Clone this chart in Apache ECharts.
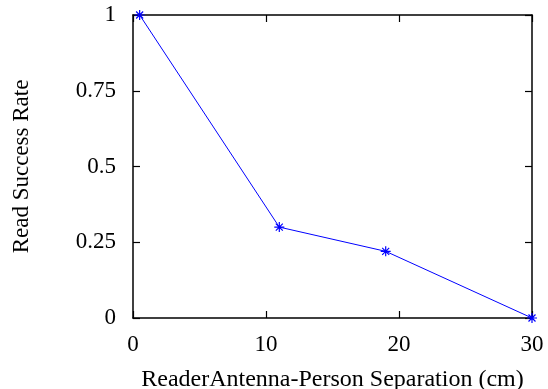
<!DOCTYPE html>
<html><head><meta charset="utf-8">
<script src="https://cdn.jsdelivr.net/npm/echarts@6/dist/echarts.min.js"></script>
<style>html,body{margin:0;padding:0;background:#fff}#c{width:548px;height:389px}</style>
</head><body><div id="c"></div>
<script>
const separation = [0.5, 11, 19, 30];
const successRate = [1, 0.30, 0.22, 0];
const xTicks = [0, 10, 20, 30];
const yTicks = [0, 0.25, 0.5, 0.75, 1];

const font = 'Liberation Serif';
const chart = echarts.init(document.getElementById('c'));
const axisLine = {show: true, onZero: false, lineStyle: {color: '#000', width: 1.5}};
const tick = {show: true, inside: true, length: 7, lineStyle: {color: '#000', width: 1.2}};
chart.setOption({
  animation: false,
  grid: {left: 133, top: 15, right: 16, bottom: 71, containLabel: false, outerBoundsMode: 'none'},
  xAxis: [{
    type: 'value', position: 'bottom', min: xTicks[0], max: xTicks[xTicks.length-1], interval: 10,
    name: 'ReaderAntenna-Person Separation (cm)', nameLocation: 'middle', nameGap: 50,
    nameTextStyle: {fontFamily: font, fontSize: 24, color: '#000'},
    axisLine: axisLine, axisTick: tick, splitLine: {show: false},
    axisLabel: {fontFamily: font, fontSize: 23, color: '#000', margin: 15}
  }, {
    type: 'value', position: 'top', min: xTicks[0], max: xTicks[xTicks.length-1], interval: 10,
    axisLine: axisLine, axisTick: tick, splitLine: {show: false}, axisLabel: {show: false}
  }],
  yAxis: [{
    type: 'value', position: 'left', min: yTicks[0], max: yTicks[yTicks.length-1], interval: 0.25,
    name: 'Read Success Rate', nameLocation: 'middle', nameGap: 100,
    nameTextStyle: {fontFamily: font, fontSize: 23, color: '#000'},
    axisLine: axisLine, axisTick: tick, splitLine: {show: false},
    axisLabel: {fontFamily: font, fontSize: 23, color: '#000', margin: 17}
  }, {
    type: 'value', position: 'right', min: yTicks[0], max: yTicks[yTicks.length-1], interval: 0.25,
    axisLine: axisLine, axisTick: tick, splitLine: {show: false}, axisLabel: {show: false}
  }],
  series: [{
    type: 'line',
    xAxisIndex: 0, yAxisIndex: 0,
    data: separation.map((x, i) => [x, successRate[i]]),
    color: '#0000ff',
    lineStyle: {color: '#0000ff', width: 1},
    symbol: 'path://M0 5 L10 5 M5 0 L5 10 M1.5 1.5 L8.5 8.5 M8.5 1.5 L1.5 8.5',
    symbolSize: 10,
    showAllSymbol: true,
    itemStyle: {color: 'none', borderColor: '#0000ff', borderWidth: 1.2},
    clip: false
  }, {
    type: 'line', xAxisIndex: 1, yAxisIndex: 1, data: [], silent: true
  }]
});
</script></body></html>
